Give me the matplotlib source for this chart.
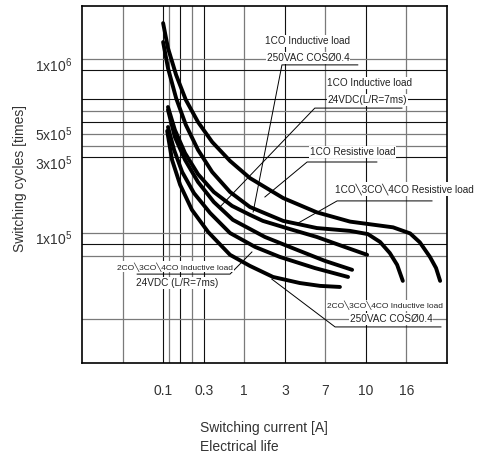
import matplotlib
matplotlib.use('Agg')  # no display
import matplotlib.pyplot as plt

plt.rcParams['font.family'] = ['Liberation Sans', 'DejaVu Sans']
plt.rcParams['mathtext.fontset'] = 'custom'
plt.rcParams['mathtext.rm'] = 'Liberation Sans'
plt.rcParams['mathtext.it'] = 'Liberation Sans:italic'
plt.rcParams['mathtext.bf'] = 'Liberation Sans:bold'

# axis: one grid column per current label, rows are chart units
current_labels = ['0.1', '0.3', '1', '3', '7', '10', '16']
current_pos = [2, 3, 4, 5, 6, 7, 8]
cycle_labels = [r'1x10$^{6}$', r'5x10$^{5}$', r'3x10$^{5}$', r'1x10$^{5}$']
cycle_pos = [8.38, 6.44, 5.63, 3.53]

grid_x_dark = [2, 2.42, 3, 5, 7]
grid_x_light = [1, 2.15, 2.71, 4, 6, 8]
grid_y_dark = [8.21, 7.39, 6.75, 5.77, 3.33]
grid_y_light = [8.52, 7.06, 6.41, 6.08, 3.64, 3.00, 1.23]

# life curves
c1_x = [2.00, 2.12, 2.32, 2.56, 2.86, 3.21, 3.65, 4.14, 4.96, 5.79, 6.61, 7.67, 8.09, 8.33, 8.58, 8.73, 8.83]
c1_y = [9.52, 8.82, 8.07, 7.37, 6.75, 6.19, 5.66, 5.18, 4.62, 4.22, 3.96, 3.80, 3.63, 3.38, 2.97, 2.66, 2.30]
c2_x = [2.00, 2.12, 2.32, 2.56, 2.86, 3.21, 3.65, 4.14, 4.96, 5.79, 6.61, 7.05, 7.35, 7.59, 7.77, 7.91]
c2_y = [8.99, 8.26, 7.42, 6.67, 5.97, 5.35, 4.79, 4.37, 3.98, 3.78, 3.70, 3.61, 3.39, 3.08, 2.75, 2.30]
c3_x = [2.12, 2.29, 2.54, 2.86, 3.25, 3.70, 4.14, 4.46, 5.13, 5.79, 6.48, 7.03]
c3_y = [7.17, 6.53, 5.88, 5.29, 4.79, 4.40, 4.15, 3.98, 3.75, 3.53, 3.25, 3.03]
c4_x = [2.12, 2.29, 2.54, 2.86, 3.25, 3.72, 4.51, 5.30, 5.99, 6.66]
c4_y = [7.09, 6.33, 5.69, 5.07, 4.51, 4.01, 3.53, 3.17, 2.86, 2.61]
c5_x = [2.12, 2.27, 2.47, 2.76, 3.16, 3.65, 4.27, 4.88, 5.74, 6.56]
c5_y = [6.61, 5.97, 5.35, 4.76, 4.20, 3.64, 3.25, 2.97, 2.66, 2.41]
c6_x = [2.10, 2.22, 2.42, 2.71, 3.11, 3.65, 4.14, 4.71, 5.37, 5.87, 6.36]
c6_y = [6.50, 5.69, 4.99, 4.29, 3.67, 3.03, 2.72, 2.41, 2.24, 2.16, 2.13]
curves = [(c1_x, c1_y), (c2_x, c2_y), (c3_x, c3_y), (c4_x, c4_y), (c5_x, c5_y), (c6_x, c6_y)]

# callouts: text lines, underline and leader
notes = [
    (['1CO Inductive load', '250VAC COSØ0.4'], [5.57, 5.57], [9.02, 8.54],
     [6.80, 4.93, 4.22], [8.35, 8.35, 4.23], False),
    (['1CO Inductive load', '24VDC(L/R=7ms)'], [7.10, 7.03], [7.84, 7.37],
     [7.89, 5.74, 3.40], [7.14, 7.14, 4.37], False),
    (['1CO Resistive load'], [6.68], [5.91],
     [7.27, 5.55, 4.51], [5.63, 5.63, 4.65], False),
    (['1CO╲3CO╲4CO Resistive load'], [7.94], [4.87],
     [8.63, 6.29, 5.33], [4.54, 4.54, 3.92], False),
    (['2CO╲3CO╲4CO Inductive load', '24VDC (L/R=7ms)'], [2.29, 2.34], [2.69, 2.24],
     [1.36, 3.65, 4.19], [2.49, 2.49, 3.11], True),
    (['2CO╲3CO╲4CO Inductive load', '250VAC COSØ0.4'], [7.47, 7.62], [1.60, 1.23],
     [8.85, 6.24, 4.68], [1.01, 1.01, 2.35], True),
]

fig = plt.figure(figsize=(4.79, 4.57), dpi=100)
ax = fig.add_axes([0.1712, 0.2057, 0.762, 0.7812])
ax.set_xlim(0, 9)
ax.set_ylim(0, 10)

for gx in grid_x_dark:
    ax.axvline(gx, color='#111111', lw=0.8, zorder=1)
for gx in grid_x_light:
    ax.axvline(gx, color='#7a7a7a', lw=0.9, zorder=1)
for gy in grid_y_dark:
    ax.axhline(gy, color='#111111', lw=0.8, zorder=1)
for gy in grid_y_light:
    ax.axhline(gy, color='#7a7a7a', lw=0.9, zorder=1)

for cx, cy in curves:
    ax.plot(cx, cy, color='black', lw=2.8, solid_capstyle='round',
            solid_joinstyle='round', zorder=3)

box = dict(facecolor='white', edgecolor='none', pad=0.6)
fam = ['Liberation Sans', 'DejaVu Sans']
for lines, tx, ty, lx, ly, narrow in notes:
    ax.plot(lx, ly, color='black', lw=0.7, zorder=4, clip_on=False)
    for i, (s, x, y) in enumerate(zip(lines, tx, ty)):
        fs = 6.0 if (narrow and i == 0) else 7.2
        ax.text(x, y, s, ha='center', va='center', fontsize=fs, family=fam,
                color='#222222', bbox=box, zorder=5, clip_on=False)

ax.set_xticks(current_pos, current_labels)
ax.set_yticks(cycle_pos, cycle_labels)
ax.tick_params(axis='x', length=0, pad=15, labelsize=10, labelcolor='#333333')
ax.tick_params(axis='y', length=0, pad=7, labelsize=10, labelcolor='#333333')
for sp in ax.spines.values():
    sp.set_linewidth(1.2)
    sp.set_color('black')

fig.text(0.042, 0.6105, 'Switching cycles [times]', rotation=90, ha='center',
         va='center', fontsize=10, color='#333333')
fig.text(0.4175, 0.0635, 'Switching current [A]', ha='left', va='center',
         fontsize=10, color='#333333')
fig.text(0.4175, 0.0219, 'Electrical life', ha='left', va='center',
         fontsize=10, color='#333333')

fig.savefig('out.png', dpi=100)
